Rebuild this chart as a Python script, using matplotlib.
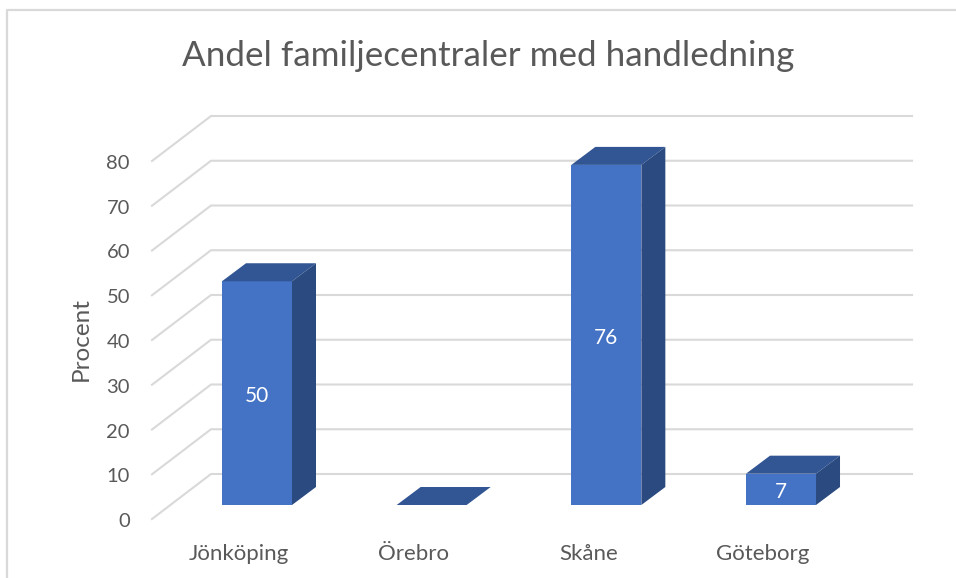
"""Andel familjecentraler med handledning: stapeldiagram i pseudo-3D."""
import matplotlib
matplotlib.use("Agg")
import matplotlib.pyplot as plt
from matplotlib.patches import Polygon

regions = ["Jönköping", "Örebro", "Skåne", "Göteborg"]
percent = [50, 0, 76, 7]
y_ticks = [0, 10, 20, 30, 40, 50, 60, 70, 80]

# escala: px por categoria / px por procent
PX_CAT = 174.67
PX_VAL = 4.475
X0_PX, Y0_PX = 257, 505
W, H = 956, 578
FONT = "Lato"
GRAY = "#595959"
LINE = "#d9d9d9"

dx = 1 / PX_CAT   # 1 px en x
dy = 1 / PX_VAL   # 1 px en y

fig = plt.figure(figsize=(W / 100, H / 100), dpi=100)
ax = fig.add_axes([0, 0, 1, 1])
ax.set_xlim(-X0_PX * dx, (W - X0_PX) * dx)
ax.set_ylim(-(H - Y0_PX) * dy, Y0_PX * dy)
ax.axis("off")

# marco del grafico (solo arriba e izquierda quedan dentro de la imagen)
x_l, x_r = (7 - X0_PX) * dx, (W - X0_PX) * dx
y_t, y_b = (Y0_PX - 10) * dy, -(H - Y0_PX) * dy
ax.plot([x_l, x_l, x_r], [y_b, y_t, y_t], color=LINE, lw=1.6, solid_capstyle="butt")

# rejilla: pared lateral y pared del fondo
x_front = (152 - X0_PX) * dx
x_back = (211 - X0_PX) * dx
x_end = (912 - X0_PX) * dx
for v in y_ticks:
    ax.plot([x_front, x_back, x_end], [v - 14 * dy, v + 31 * dy, v + 31 * dy],
            color=LINE, lw=1.5, solid_joinstyle="miter", zorder=1)
    ax.text((130 - X0_PX) * dx, v - 15 * dy, str(v), ha="right", va="center_baseline",
            fontsize=14.5, color=GRAY, family=FONT)

# barras
bar_w = 70 * dx
depth_x, depth_y = 24 * dx, 18 * dy
xs = list(range(len(regions)))
ax.bar(xs, percent, width=bar_w, color="#4472c4", linewidth=0, zorder=3)
for x, v in zip(xs, percent):
    l, r = x - bar_w / 2, x + bar_w / 2
    ax.add_patch(Polygon([(l, v), (r, v), (r + depth_x, v + depth_y), (l + depth_x, v + depth_y)],
                         closed=True, facecolor="#325594", linewidth=0, zorder=3))
    ax.add_patch(Polygon([(r, 0), (r + depth_x, depth_y), (r + depth_x, v + depth_y), (r, v)],
                         closed=True, facecolor="#2a4a80", linewidth=0, zorder=3))
    if v > 0:
        ax.text(x, v / 2 - 1 * dy, str(v), ha="center", va="center_baseline", fontsize=15,
                color="white", family=FONT, zorder=4)
    ax.text(x - 18 * dx, -47 * dy, regions[x], ha="center", va="center_baseline",
            fontsize=16, color=GRAY, family=FONT)

ax.text((81 - X0_PX) * dx, (Y0_PX - 339) * dy, "Procent", rotation=90, ha="center", va="center",
        fontsize=17.5, color=GRAY, family=FONT)
ax.text((488 - X0_PX) * dx, (Y0_PX - 56) * dy, "Andel familjecentraler med handledning",
        ha="center", va="center", fontsize=25.2, color=GRAY, family=FONT)

fig.savefig("out.png", dpi=100)
